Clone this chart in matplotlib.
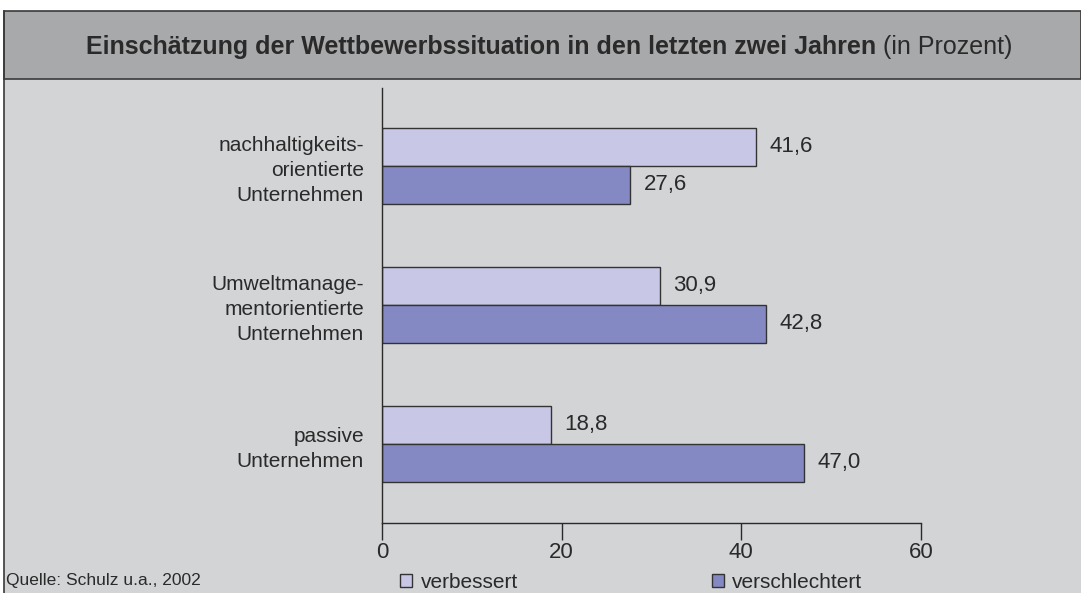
import matplotlib.pyplot as plt
from matplotlib.patches import Rectangle, Patch
import numpy as np

# Daten
kategorien = ['nachhaltigkeits-\norientierte\nUnternehmen',
              'Umweltmanage-\nmentorientierte\nUnternehmen',
              'passive\nUnternehmen']
verbessert = [41.6, 30.9, 18.8]
verschlechtert = [27.6, 42.8, 47.0]
serien = ['verbessert', 'verschlechtert']
x_ticks = [0, 20, 40, 60]

farbe_hell = '#c8c8e6'
farbe_dunkel = '#8489c3'
kante = '#333333'

plt.rcParams['font.family'] = ['Liberation Sans', 'DejaVu Sans']

fig = plt.figure(figsize=(10.81, 5.93), dpi=100)
fig.patch.set_facecolor('white')

# Hintergrund-Flächen
fig.patches.append(Rectangle((4/1081, 0), 1 - 4/1081, 1 - 79/593, transform=fig.transFigure,
                             facecolor='#d3d4d6', edgecolor='none', zorder=-10))
fig.patches.append(Rectangle((4/1081, 1 - 79/593), 1 - 4/1081, 68/593, transform=fig.transFigure,
                             facecolor='#a8a9ab', edgecolor='#3a3a3a', linewidth=1.2, zorder=-10))
fig.lines.append(plt.Line2D([4/1081, 4/1081], [0, 1 - 11/593], transform=fig.transFigure,
                            color='#3a3a3a', linewidth=1.2, zorder=-9))

# Titel
t = fig.text(86/1081, 1 - 47/593, 'Einschätzung der Wettbewerbssituation in den letzten zwei Jahren ',
             ha='left', va='center', fontsize=18, fontweight='bold', color='#2a2a2a')
fig.canvas.draw()
bb = t.get_window_extent()
fig.text(bb.x1 / fig.bbox.width, 1 - 47/593, '(in Prozent)', ha='left', va='center',
         fontsize=18, color='#2a2a2a')

ax = fig.add_axes([382/1081, 1 - 523/593, (921 - 382)/1081, (523 - 88)/593])
ax.set_facecolor('none')

y = np.arange(len(kategorien))
h = 0.272
b1 = ax.barh(y - h/2, verbessert, height=h, color=farbe_hell, edgecolor=kante, linewidth=1)
b2 = ax.barh(y + h/2, verschlechtert, height=h, color=farbe_dunkel, edgecolor=kante, linewidth=1)

for balken, werte in [(b1, verbessert), (b2, verschlechtert)]:
    for b, v in zip(balken, werte):
        ax.text(v + 1.5, b.get_y() + b.get_height()/2, f'{v:.1f}'.replace('.', ','),
                ha='left', va='center', fontsize=16, color='#2a2a2a')

ax.set_xlim(0, 60)
ax.set_ylim(2.57, -0.56)
ax.set_xticks(x_ticks)
ax.set_xticklabels([str(v) for v in x_ticks], fontsize=16, color='#2a2a2a')
ax.set_yticks(y)
ax.set_yticklabels(kategorien, fontsize=15, color='#2a2a2a', linespacing=1.4)
ax.tick_params(axis='y', length=0, pad=13)
ax.tick_params(axis='x', length=12, width=1, color='#2a2a2a', pad=2)
for s in ['top', 'right']:
    ax.spines[s].set_visible(False)
for s in ['left', 'bottom']:
    ax.spines[s].set_color('#2a2a2a')
    ax.spines[s].set_linewidth(1)

# Quelle
fig.text(6/1081, 1 - 581/593, 'Quelle: Schulz u.a., 2002', ha='left', va='center',
         fontsize=12.5, color='#2a2a2a')

# Legende
griffe = [Patch(facecolor=farbe_hell, edgecolor=kante, linewidth=1),
          Patch(facecolor=farbe_dunkel, edgecolor=kante, linewidth=1)]
fig.legend(griffe, serien, loc='center left', bbox_to_anchor=(381/1081, 1 - 582/593),
           ncol=2, frameon=False, fontsize=15, handlelength=0.6, handleheight=0.6,
           handletextpad=0.4, columnspacing=9.3, labelcolor='#2a2a2a')

fig.savefig('out.png', dpi=100)
